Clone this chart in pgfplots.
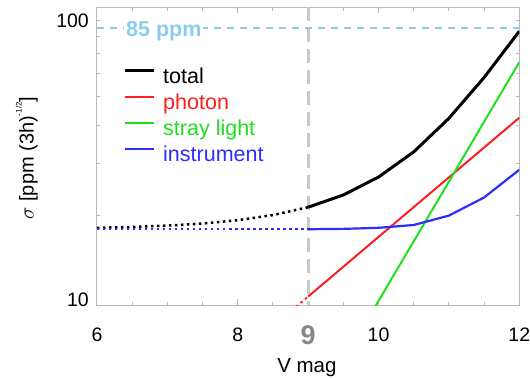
\documentclass[border=0pt]{standalone}
\usepackage{pgfplots}
\pgfplotsset{compat=1.18}
\usepackage{pgfplotstable}
\usepackage{fontspec}
\setmainfont{Liberation Sans}
\definecolor{cred}{RGB}{255,30,30}
\definecolor{cgreen}{RGB}{30,225,30}
\definecolor{cblue}{RGB}{45,45,255}
\definecolor{lightb}{RGB}{140,205,235}
\definecolor{dgray}{RGB}{200,200,200}
\definecolor{axgray}{RGB}{185,185,185}
\definecolor{ninegray}{RGB}{135,135,135}

\pgfplotstableread{
V     total  photon  stray  instr
6.0   18.20  2.69    0.26   18.00
6.5   18.32  3.39    0.41   18.00
7.0   18.51  4.27    0.65   18.00
7.5   18.81  5.37    1.04   18.00
8.0   19.30  6.76    1.64   18.00
8.5   20.08  8.51    2.60   18.00
9.0   21.34  10.70   4.12   18.00
9.5   23.45  13.47   6.53   18.05
10.0  26.94  16.96   10.35  18.20
10.5  32.72  21.35   16.40  18.60
11.0  42.41  26.88   26.00  20.00
11.5  58.14  33.84   41.30  23.00
12.0  83.09  42.60   65.40  28.50
}\noise

\begin{document}
\begin{tikzpicture}
\useasboundingbox (-97pt,-73.7pt) rectangle (433pt,305.3pt);
\begin{axis}[
  scale only axis, width=422.3pt, height=298pt,
  at={(0,0)}, anchor=south west,
  xmin=6, xmax=12, ymode=log, ymin=10, ymax=100,
  axis line style={draw=axgray, line width=1pt},
  tick style={draw=axgray, line width=1pt},
  major tick length=6pt, minor tick length=3.5pt,
  xtick={6,8,10,12}, xticklabels={6,8,10,12},
  minor xtick={6.5,7,7.5,8.5,9.5,10.5,11,11.5},
  extra x ticks={9}, extra x tick labels={9},
  extra x tick style={major tick length=3.5pt,
     xticklabel style={font=\fontsize{27}{27}\selectfont\bfseries, text=ninegray}},
  ytick={10}, yticklabels={10},
  extra y ticks={100}, extra y tick labels={100},
  extra y tick style={yticklabel style={yshift=-18.7pt}},
  minor ytick={20,30,40,50,60,70,80,90},
  tick label style={font=\fontsize{19.5}{19.5}\selectfont},
  xticklabel style={anchor=center, yshift=-29.7pt},
  yticklabel style={anchor=east, inner sep=0pt, xshift=-8pt, yshift=5.3pt},
  xlabel={V mag},
  xlabel style={font=\fontsize{20.5}{20.5}\selectfont, at={(axis description cs:0.497,-0.21)}, anchor=center},
  ylabel={$\sigma$ [ppm (3h)\raisebox{0.6em}{\fontsize{8}{8}\selectfont -1/2}]},
  ylabel style={font=\fontsize{20}{20}\selectfont, at={(axis description cs:-0.166,0.494)}, anchor=center},
  legend style={draw=none, fill=none, at={(axis description cs:0.0616,0.80)}, anchor=north west,
     inner sep=0pt, row sep=4.6pt, font=\fontsize{21.5}{21.5}\selectfont,
     nodes={inner sep=0pt, text height=16pt, text depth=5.4pt},
     /tikz/every odd column/.append style={column sep=8pt}},
  legend cell align=left,
  legend image code/.code={\draw[#1] (0pt,7pt) -- (29pt,7pt);},
]
% reference lines
\addplot[dgray, line width=3pt, dash pattern=on 14pt off 7pt, forget plot] coordinates {(9,100) (9,10)};
\addplot[lightb, line width=2pt, dash pattern=on 7pt off 6pt, forget plot] coordinates {(6,85) (12,85)};
% faint (dotted) parts
\addplot[black, line width=2.5pt, dash pattern=on 2.5pt off 3.5pt, forget plot, restrict x to domain=6:9] table[x=V,y=total]{\noise};
\addplot[cblue, line width=2.2pt, dash pattern=on 2.5pt off 3.5pt, forget plot, restrict x to domain=6:9] table[x=V,y=instr]{\noise};
\addplot[cred, line width=2pt, dash pattern=on 2.5pt off 3.5pt, forget plot, restrict x to domain=8.5:9] table[x=V,y=photon]{\noise};
% solid parts
\addplot[black, line width=3pt, restrict x to domain=9:12] table[x=V,y=total]{\noise};
\addlegendentry{\textcolor{black}{total}}
\addplot[cred, line width=2pt, restrict x to domain=9:12] table[x=V,y=photon]{\noise};
\addlegendentry{\textcolor{cred}{photon}}
\addplot[cgreen, line width=2pt, restrict x to domain=9.5:12] table[x=V,y=stray]{\noise};
\addlegendentry{\textcolor{cgreen}{stray light}}
\addplot[cblue, line width=2.2pt, restrict x to domain=9:12] table[x=V,y=instr]{\noise};
\addlegendentry{\textcolor{cblue}{instrument}}
\node[fill=white, inner sep=2pt, text=lightb, font=\fontsize{21.5}{21.5}\selectfont\bfseries, anchor=base, yshift=-7.7pt] at (axis cs:6.95,85) {85 ppm};
\end{axis}
\end{tikzpicture}
\end{document}
